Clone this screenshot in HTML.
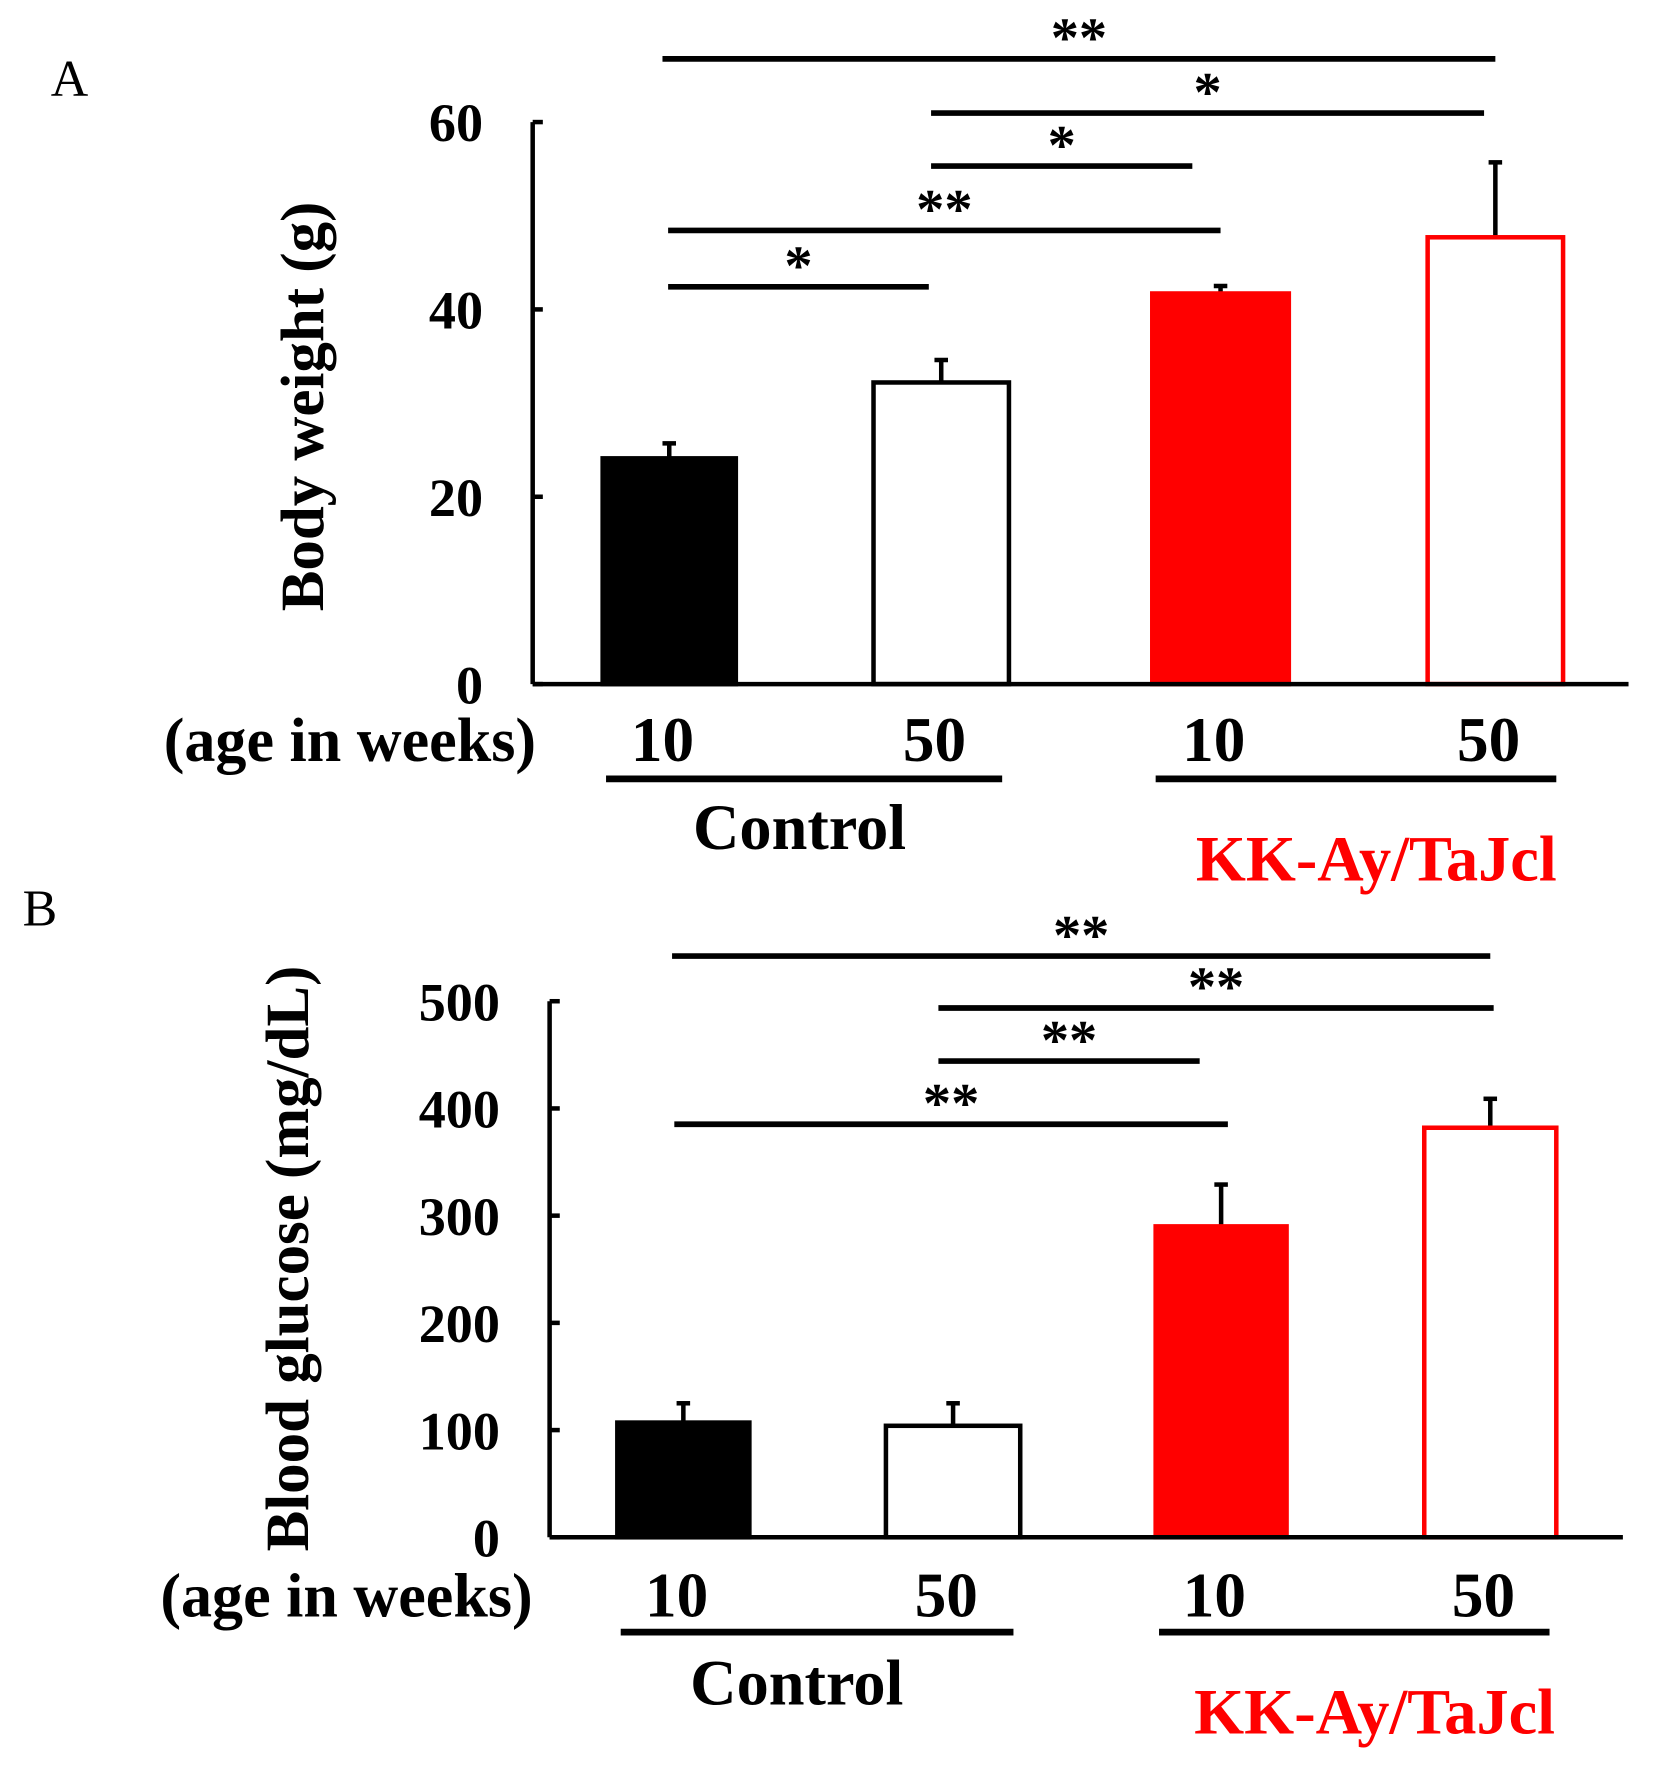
<!DOCTYPE html>
<html><head><meta charset="utf-8"><style>
html,body{margin:0;padding:0;background:#fff;}
svg{display:block;font-family:"Liberation Serif",serif;font-weight:bold;}
</style></head><body>
<svg id="chart" width="1659" height="1779" viewBox="0 0 1470 1576"></svg>
<script>
const categories = ["10", "50", "10", "50"];
const groups = ["Control", "KK-Ay/TaJcl"];
const weightValues = [24.1, 32.2, 41.7, 47.7];
const weightErrors = [1.6, 2.4, 0.8, 8.0];
const glucoseValues = [107, 104, 290, 382];
const glucoseErrors = [18, 21, 39, 27];
const weightTicks = [0, 20, 40, 60];
const glucoseTicks = [0, 100, 200, 300, 400, 500];
const weightSig = [["**",0,3],["*",1,3],["*",1,2],["**",0,2],["*",0,1]];
const glucoseSig = [["**",0,3],["**",1,3],["**",1,2],["**",0,2]];

const NS = "http://www.w3.org/2000/svg";
const svg = document.getElementById("chart");
function mk(tag, attrs, parent, text){
  const e = document.createElementNS(NS, tag);
  for (const k in attrs) e.setAttribute(k, attrs[k]);
  if (text !== undefined) e.textContent = text;
  (parent || svg).appendChild(e);
  return e;
}
const fills = ["#000", "#fff", "#f00", "#fff"];
const strokes = ["#000", "#000", "#f00", "#f00"];

function panel(cfg){
  const g = mk("g", {});
  
  
  const y = v => cfg.y0 - (v - 0) / cfg.max * (cfg.y0 - cfg.yTop);
  const centers = cfg.bars.map(b => (b[0] + b[1]) / 2);
  const L = mk("text", {x: cfg.letter[0], y: cfg.letter[1], "font-size": 46, "font-weight": "normal"}, g, cfg.letterText);
  
  
  cfg.values.forEach((v, i) => {
    const b = cfg.bars[i];
    const top = y(v), errTop = y(v + cfg.errors[i]);
    const el = mk("line", {x1: centers[i], x2: centers[i], y1: top, y2: errTop, stroke: "#000", "stroke-width": 4}, g);
    
    
    const cap = mk("line", {x1: centers[i]-6, x2: centers[i]+6, y1: errTop, y2: errTop, stroke: "#000", "stroke-width": 4}, g);
    
    
    const r = mk("rect", {x: b[0]+2, y: top, width: b[1]-b[0]-4, height: cfg.y0 - top, fill: fills[i], stroke: strokes[i], "stroke-width": 4}, g);
    
    
  });
  const ya = mk("line", {x1: cfg.ax, x2: cfg.ax, y1: cfg.yTop, y2: cfg.y0, stroke: "#000", "stroke-width": 4}, g);
  
  
  const xa = mk("line", {x1: cfg.ax, x2: cfg.axEnd, y1: cfg.y0, y2: cfg.y0, stroke: "#000", "stroke-width": 4}, g);
  
  
  cfg.ticks.forEach(t => {
    const tk = mk("line", {x1: cfg.ax, x2: cfg.ax + 9, y1: y(t), y2: y(t), stroke: "#000", "stroke-width": 4}, g);
    
    
    const tl = mk("text", {x: cfg.tickX, y: y(t) + 17, "font-size": 48, "text-anchor": "end"}, g, String(t));
    
    
  });
  const yt = mk("text", {x: 0, y: 0, "font-size": 54, "text-anchor": "middle", transform: `translate(${cfg.titleX},${cfg.titleY}) rotate(-90)`}, g, cfg.title);
  
  
  cfg.sig.forEach((s, k) => {
    const ly = cfg.sigY[k];
    const x1 = centers[s[1]] + cfg.sigOff[k][0], x2 = centers[s[2]] + cfg.sigOff[k][1];
    const l = mk("line", {x1: x1, x2: x2, y1: ly, y2: ly, stroke: "#000", "stroke-width": 5}, g);
    
    
    const st = mk("text", {x: (x1 + x2) / 2, y: ly - 2, "font-size": 50, "text-anchor": "middle"}, g, s[0]);
    
    
  });
  const ag = mk("text", {x: cfg.ageX, y: cfg.labY, "font-size": 55, "text-anchor": "end"}, g, "(age in weeks)");
  
  
  categories.forEach((c, i) => {
    const t = mk("text", {x: centers[i] - 6, y: cfg.labY, "font-size": 56, "text-anchor": "middle"}, g, c);
    
    
  });
  [[0,1],[2,3]].forEach((pr, gi) => {
    const x1 = cfg.bars[pr[0]][0] + 5, x2 = cfg.bars[pr[1]][1] - 8;
    const u = mk("line", {x1: x1, x2: x2, y1: cfg.ulY, y2: cfg.ulY, stroke: "#000", "stroke-width": 6}, g);
    
    
    const gt = mk("text", {x: (x1 + x2) / 2 + cfg.grpOff[gi], y: cfg.grpY[gi], "font-size": 57, "text-anchor": "middle", fill: gi ? "#f00" : "#000"}, g, groups[gi]);
    
    
  });
}

panel({name: "panel-a-body-weight", letterText: "A", letter: [45, 85], values: weightValues, errors: weightErrors, max: 60,
  y0: 606, yTop: 108, ax: 472, axEnd: 1443, tickX: 428, ticks: weightTicks,
  bars: [[532,654],[772,896],[1019,1144],[1263,1387]],
  title: "Body weight (g)", titleX: 286, titleY: 360,
  sig: weightSig, sigY: [52, 100, 147, 204, 254],
  sigOff: [[-6,0],[-9,-10],[-9,-25],[-1,0],[-1,-11]],
  ageX: 475, labY: 674, ulY: 690, grpY: [752, 780], grpOff: [-4, 18]});

panel({name: "panel-b-blood-glucose", letterText: "B", letter: [20, 820], values: glucoseValues, errors: glucoseErrors, max: 500,
  y0: 1362, yTop: 887, ax: 487, axEnd: 1438, tickX: 443, ticks: glucoseTicks,
  bars: [[545,666],[783,906],[1022,1142],[1260,1381]],
  title: "Blood glucose (mg/dL)", titleX: 273, titleY: 1115,
  sig: glucoseSig, sigY: [847, 893, 940, 996],
  sigOff: [[-10,0],[-13,3],[-13,-19],[-8,6]],
  ageX: 472, labY: 1432, ulY: 1446, grpY: [1510, 1536], grpOff: [-18, 18]});
</script>
</body></html>
